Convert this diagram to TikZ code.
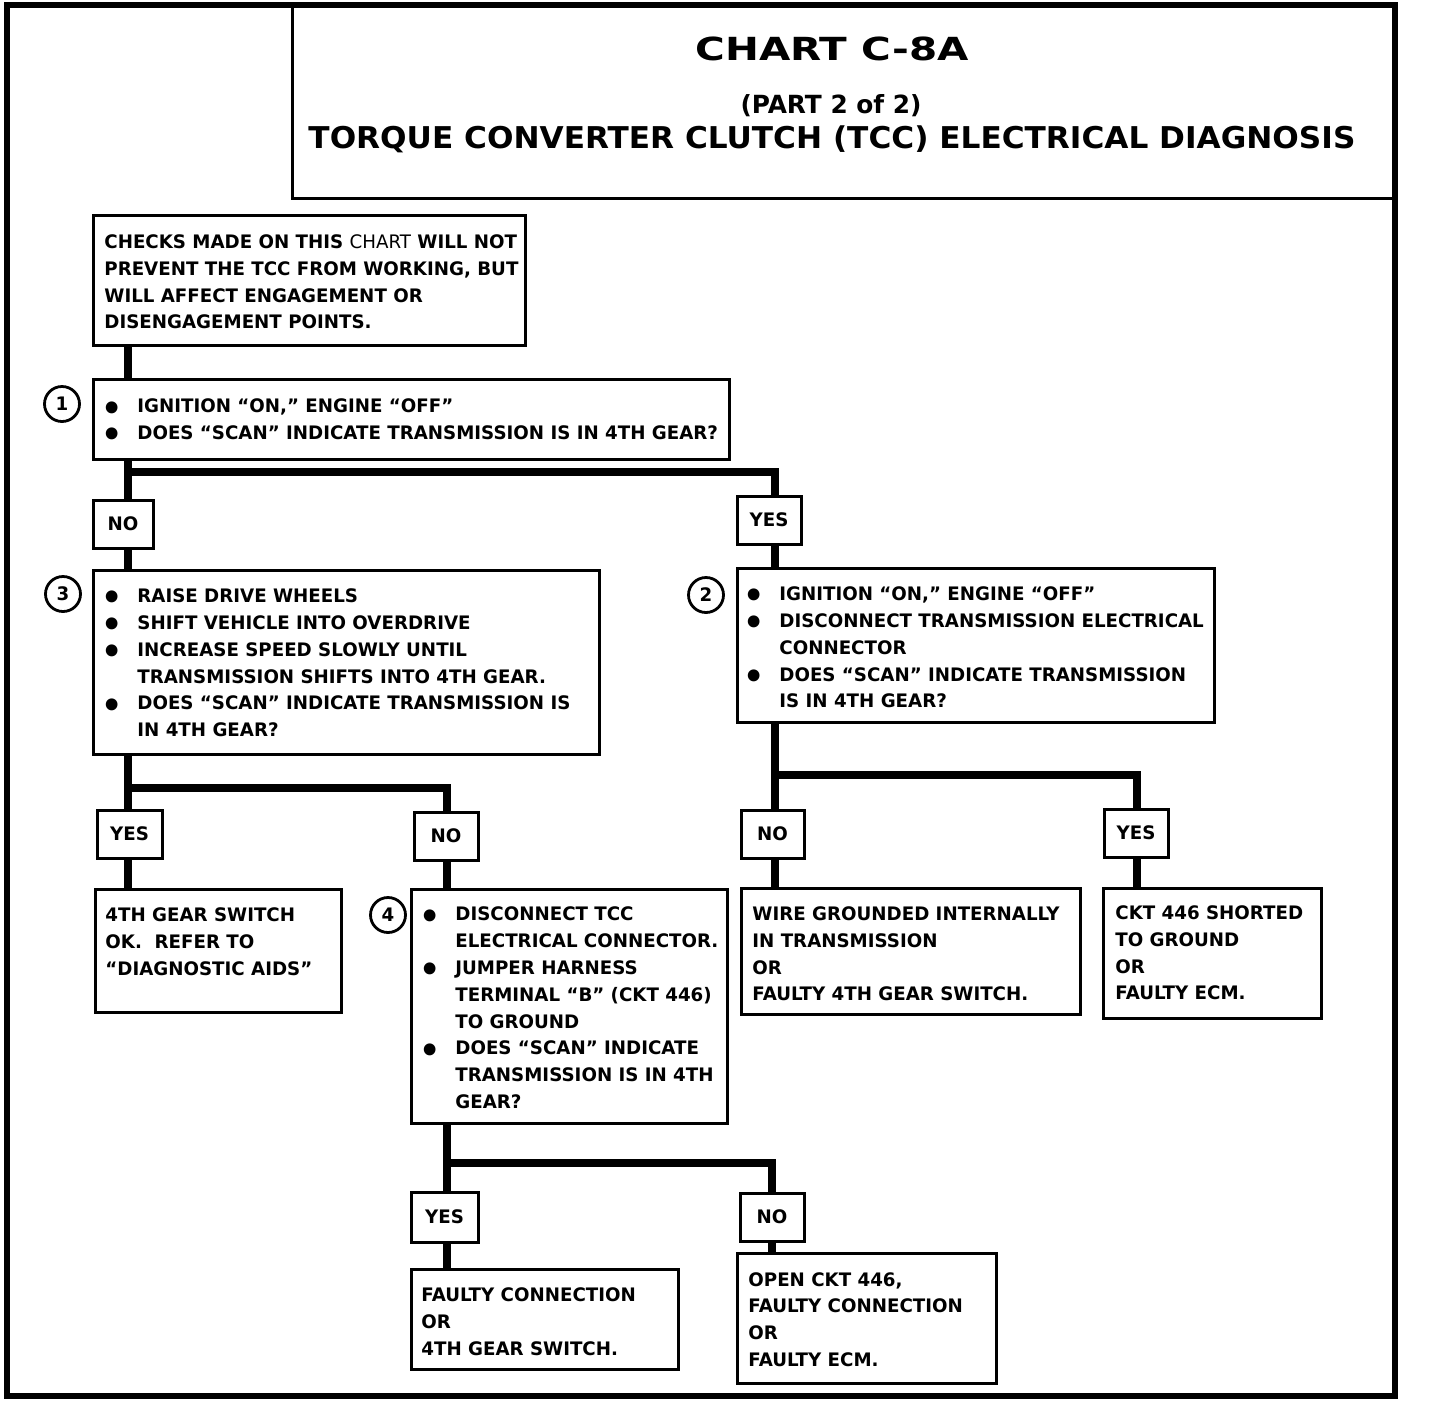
\documentclass[tikz,border=0pt]{standalone}
\usepackage{fontspec}
\setmainfont{DejaVu Sans}[FakeStretch=0.98]
\usepackage{graphicx}
\usetikzlibrary{fit}
\newcommand\bodyf{\bfseries\fontsize{9.3pt}{13.4pt}\selectfont}
\newcommand\bul{\makebox[18.5pt][l]{\makebox[12pt][c]{\smash{\raisebox{-3.6pt}{\fontsize{17pt}{17pt}\selectfont\textbullet}}}}}
\newcommand\ind{\hspace*{18.5pt}}
\begin{document}
\begin{tikzpicture}[x=0.5pt,y=-0.5pt,
  box/.style={draw, line width=1.5pt, inner sep=0pt},
  yn/.style={box, font=\bodyf, minimum height=24pt},
  txt/.style={align=left, inner sep=0pt, font=\bodyf},
  conn/.style={line width=4pt},
  circ/.style={draw, circle, line width=1.4pt, minimum size=17.5pt, inner sep=0pt, font=\bodyf},
  ttl/.style={inner sep=0pt, anchor=base}]
\useasboundingbox (0,0) rectangle (1440,1404);
% frame and title
\node[draw, line width=3pt, inner sep=0pt, fit={(7,5)(1395,1396)}] (frame) {};
\node[box, fit={(292,5)(1395,198)}] (titlebox) {};
\node[ttl] (tchart) at (832,60) {\resizebox{136.5pt}{11.8pt}{\bfseries CHART C-8A}};
\node[ttl] (tpart) at (831,113) {\resizebox{90.5pt}{\height}{\bfseries\fontsize{12.5pt}{14pt}\selectfont (PART 2 of 2)}};
\node[ttl] (ttitle) at (832,148) {\resizebox{523.5pt}{\height}{\bfseries\fontsize{15pt}{18pt}\selectfont TORQUE CONVERTER CLUTCH (TCC) ELECTRICAL DIAGNOSIS}};
% boxes
\node[box, fit={(93,215)(525,345)}] (intro) {};
\node[txt, anchor=west] (tintro) at (104,282) {CHECKS MADE ON THIS {\mdseries CHART} WILL NOT\\PREVENT THE TCC FROM WORKING, BUT\\WILL AFFECT ENGAGEMENT OR\\DISENGAGEMENT POINTS.};
\node[box, fit={(93,379)(729,459)}] (box1) {};
\node[txt, anchor=west] (tbox1) at (100,419.5) {\bul IGNITION “ON,” ENGINE “OFF”\\\bul DOES “SCAN” INDICATE TRANSMISSION IS IN 4TH GEAR?};
\node[circ] (c1) at (62,404) {1};
\node[yn, minimum width=30pt] (no1) at (123,524) {NO};
\node[yn, minimum width=32pt] (yes1) at (769,520) {YES};
\node[box, fit={(93,570)(599,754)}] (box3) {};
\node[txt, anchor=west] (tbox3) at (100,663) {\bul RAISE DRIVE WHEELS\\\bul SHIFT VEHICLE INTO OVERDRIVE\\\bul INCREASE SPEED SLOWLY UNTIL\\\ind TRANSMISSION SHIFTS INTO 4TH GEAR.\\\bul DOES “SCAN” INDICATE TRANSMISSION IS\\\ind IN 4TH GEAR?};
\node[circ] (c3) at (63,594) {3};
\node[box, fit={(737,568)(1214,722)}] (box2) {};
\node[txt, anchor=west] (tbox2) at (742,647.5) {\bul IGNITION “ON,” ENGINE “OFF”\\\bul DISCONNECT TRANSMISSION ELECTRICAL\\\ind CONNECTOR\\\bul DOES “SCAN” INDICATE TRANSMISSION\\\ind IS IN 4TH GEAR?};
\node[circ] (c2) at (706,595) {2};
\node[yn, minimum width=32.5pt] (yes3) at (129.5,834) {YES};
\node[yn, minimum width=32pt] (no3) at (446,836) {NO};
\node[box, fit={(95,889)(341,1012)}] (gearok) {};
\node[txt, anchor=west] (tgearok) at (105,941.5) {4TH GEAR SWITCH\\OK.\ \ REFER TO\\“DIAGNOSTIC AIDS”};
\node[box, fit={(411,889)(727,1123)}] (box4) {};
\node[txt, anchor=west] (tbox4) at (418,1008) {\bul DISCONNECT TCC\\\ind ELECTRICAL CONNECTOR.\\\bul JUMPER HARNESS\\\ind TERMINAL “B” (CKT 446)\\\ind TO GROUND\\\bul DOES “SCAN” INDICATE\\\ind TRANSMISSION IS IN 4TH\\\ind GEAR?};
\node[circ] (c4) at (388,915) {4};
\node[yn, minimum width=31.5pt] (no2) at (772.5,834) {NO};
\node[yn, minimum width=32pt] (yes2) at (1136,833) {YES};
\node[box, fit={(741,888)(1080,1014)}] (wire) {};
\node[txt, anchor=west] (twire) at (752,954) {WIRE GROUNDED INTERNALLY\\IN TRANSMISSION\\OR\\FAULTY 4TH GEAR SWITCH.};
\node[box, fit={(1103,888)(1321,1018)}] (ckt) {};
\node[txt, anchor=west] (tckt) at (1115,953) {CKT 446 SHORTED\\TO GROUND\\OR\\FAULTY ECM.};
\node[yn, minimum width=33.5pt, minimum height=25pt] (yes4) at (444.5,1217) {YES};
\node[yn, minimum width=32pt] (no4) at (772,1217) {NO};
\node[box, fit={(411,1269)(678,1369)}] (faulty) {};
\node[txt, anchor=west] (tfaulty) at (421,1322) {FAULTY CONNECTION\\OR\\4TH GEAR SWITCH.};
\node[box, fit={(737,1253)(996,1383)}] (open) {};
\node[txt, anchor=west] (topen) at (748,1319.5) {OPEN CKT 446,\\FAULTY CONNECTION\\OR\\FAULTY ECM.};
% trunk coordinates
\coordinate (xa) at (128,0);
\coordinate (xb) at (775,0);
\coordinate (xc) at (447,0);
\coordinate (xd) at (1137,0);
\coordinate (xe) at (772,0);
\coordinate (h1) at (0,472);
\coordinate (h2) at (0,775);
\coordinate (h3) at (0,788);
\coordinate (h4) at (0,1163);
% connectors
\draw[conn] (intro.south -| xa) -- (box1.north -| xa);
\draw[conn] (box1.south -| xa) -- (no1.north -| xa);
\draw[conn] (xa |- h1) -| (yes1.north -| xb);
\draw[conn] (no1.south -| xa) -- (box3.north -| xa);
\draw[conn] (yes1.south -| xb) -- (box2.north -| xb);
\draw[conn] (box3.south -| xa) -- (yes3.north -| xa);
\draw[conn] (xa |- h3) -| (no3.north -| xc);
\draw[conn] (yes3.south -| xa) -- (gearok.north -| xa);
\draw[conn] (no3.south -| xc) -- (box4.north -| xc);
\draw[conn] (box2.south -| xb) -- (no2.north -| xb);
\draw[conn] (xb |- h2) -| (yes2.north -| xd);
\draw[conn] (no2.south -| xb) -- (wire.north -| xb);
\draw[conn] (yes2.south -| xd) -- (ckt.north -| xd);
\draw[conn] (box4.south -| xc) -- (yes4.north -| xc);
\draw[conn] (xc |- h4) -| (no4.north -| xe);
\draw[conn] (yes4.south -| xc) -- (faulty.north -| xc);
\draw[conn] (no4.south -| xe) -- (open.north -| xe);
\end{tikzpicture}
\end{document}
